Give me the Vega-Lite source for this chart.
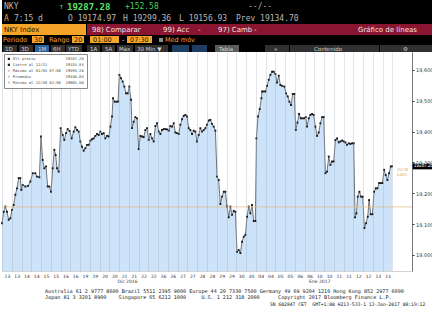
{
  "$schema": "https://vega.github.io/schema/vega-lite/v6.json",
  "background": "white",
  "padding": 0,
  "spacing": 0,
  "config": {"view": {"stroke": null}},
  "resolve": {"scale": {"color": "independent", "fill": "independent"}, "legend": {"color": "independent", "fill": "independent"}},
  "title": {
    "text": "SN 602847 CET\u00a0\u00a0GMT+1:00 H213-533-1 13-Jan-2017 08:19:12",
    "orient": "bottom",
    "anchor": "start",
    "frame": "group",
    "font": "DejaVu Sans Mono",
    "fontSize": 4.7,
    "fontWeight": "normal",
    "color": "#222222",
    "baseline": "top",
    "offset": 2,
    "dx": 268
  },
  "datasets": {
    "nky": [
      {"t":0,"v":19103},{"t":0.171,"v":19140},{"t":0.342,"v":19157},{"t":0.512,"v":19140},{"t":0.683,"v":19114},{"t":0.854,"v":19119},{"t":1.025,"v":19146},{"t":1.195,"v":19162},{"t":1.366,"v":19195},{"t":1.537,"v":19216},{"t":1.708,"v":19249},{"t":1.878,"v":19249},{"t":1.981,"v":19211},{"t":2.117,"v":19227},{"t":2.391,"v":19222},{"t":2.664,"v":19224},{"t":2.903,"v":19238},{"t":3.142,"v":19265},{"t":3.415,"v":19265},{"t":3.586,"v":19254},{"t":3.825,"v":19252},{"t":3.996,"v":19384},{"t":4.167,"v":19308},{"t":4.337,"v":19281},{"t":4.508,"v":19287},{"t":4.679,"v":19222},{"t":4.85,"v":19222},{"t":5.02,"v":19205},{"t":5.191,"v":19281},{"t":5.362,"v":19341},{"t":5.499,"v":19324},{"t":5.635,"v":19281},{"t":5.806,"v":19270},{"t":6.011,"v":19411},{"t":6.216,"v":19389},{"t":6.387,"v":19373},{"t":6.557,"v":19395},{"t":6.728,"v":19408},{"t":6.933,"v":19402},{"t":7.138,"v":19378},{"t":7.343,"v":19400},{"t":7.514,"v":19414},{"t":7.684,"v":19405},{"t":7.855,"v":19400},{"t":8.026,"v":19368},{"t":8.197,"v":19351},{"t":8.367,"v":19338},{"t":8.538,"v":19346},{"t":8.709,"v":19357},{"t":8.88,"v":19357},{"t":9.051,"v":19371},{"t":9.221,"v":19375},{"t":9.392,"v":19378},{"t":9.563,"v":19386},{"t":9.734,"v":19392},{"t":9.904,"v":19389},{"t":10.075,"v":19400},{"t":10.246,"v":19392},{"t":10.417,"v":19395},{"t":10.587,"v":19378},{"t":10.758,"v":19386},{"t":10.929,"v":19384},{"t":11.1,"v":19416},{"t":11.27,"v":19449},{"t":11.373,"v":19508},{"t":11.544,"v":19497},{"t":11.714,"v":19497},{"t":11.885,"v":19497},{"t":12.022,"v":19584},{"t":12.193,"v":19573},{"t":12.363,"v":19562},{"t":12.534,"v":19546},{"t":12.705,"v":19524},{"t":12.876,"v":19524},{"t":13.046,"v":19546},{"t":13.217,"v":19503},
      {"t":13.32,"v":19411},{"t":13.49,"v":19432},{"t":13.661,"v":19447},{"t":13.832,"v":19443},{"t":14.003,"v":19343},{"t":14.173,"v":19386},{"t":14.344,"v":19384},{"t":14.515,"v":19382},{"t":14.686,"v":19405},{"t":14.857,"v":19411},{"t":15.027,"v":19373},{"t":15.198,"v":19392},{"t":15.369,"v":19378},{"t":15.54,"v":19368},{"t":15.71,"v":19418},{"t":15.881,"v":19427},{"t":16.052,"v":19400},{"t":16.223,"v":19392},{"t":16.393,"v":19405},{"t":16.564,"v":19408},{"t":16.735,"v":19408},{"t":16.906,"v":19407},{"t":17.077,"v":19403},{"t":17.247,"v":19418},{"t":17.418,"v":19416},{"t":17.589,"v":19427},{"t":17.76,"v":19397},{"t":17.93,"v":19395},{"t":18.101,"v":19392},{"t":18.272,"v":19422},{"t":18.443,"v":19440},{"t":18.613,"v":19451},{"t":18.784,"v":19454},{"t":18.955,"v":19449},{"t":19.126,"v":19411},{"t":19.296,"v":19405},{"t":19.467,"v":19392},{"t":19.638,"v":19403},{"t":19.809,"v":19400},{"t":19.98,"v":19368},{"t":20.15,"v":19389},{"t":20.321,"v":19411},{"t":20.492,"v":19400},{"t":20.663,"v":19405},{"t":20.833,"v":19411},{"t":21.004,"v":19422},{"t":21.175,"v":19436},{"t":21.346,"v":19438},{"t":21.516,"v":19425},{"t":21.687,"v":19416},{"t":21.858,"v":19403},{"t":22.029,"v":19254},{"t":22.2,"v":19243},{"t":22.37,"v":19165},{"t":22.541,"v":19189},{"t":22.712,"v":19205},{"t":22.883,"v":19205},{"t":23.053,"v":19157},{"t":23.224,"v":19122},{"t":23.395,"v":19157},{"t":23.566,"v":19130},{"t":23.736,"v":19143},{"t":23.907,"v":19140},{"t":24.078,"v":19010},{"t":24.249,"v":19016},{"t":24.419,"v":19006},{"t":24.59,"v":19043},{"t":24.761,"v":19059},{"t":24.932,"v":19065},{"t":25.102,"v":19124},{"t":25.273,"v":19157},{"t":25.444,"v":19135},{"t":25.615,"v":19162},{"t":25.785,"v":19110},{"t":25.956,"v":19110},{"t":26.059,"v":19378},{"t":26.229,"v":19449},{"t":26.4,"v":19473},{"t":26.571,"v":19508},
      {"t":26.639,"v":19530},{"t":26.81,"v":19530},{"t":26.981,"v":19530},{"t":27.152,"v":19548},{"t":27.322,"v":19568},{"t":27.493,"v":19584},{"t":27.664,"v":19594},{"t":27.835,"v":19594},{"t":28.005,"v":19587},{"t":28.176,"v":19559},{"t":28.347,"v":19581},{"t":28.518,"v":19551},{"t":28.689,"v":19548},{"t":28.928,"v":19546},{"t":29.098,"v":19524},{"t":29.269,"v":19514},{"t":29.44,"v":19497},{"t":29.611,"v":19486},{"t":29.781,"v":19522},{"t":29.952,"v":19522},{"t":30.089,"v":19405},{"t":30.26,"v":19429},{"t":30.43,"v":19457},{"t":30.601,"v":19443},{"t":30.772,"v":19443},{"t":30.943,"v":19443},{"t":31.113,"v":19447},{"t":31.25,"v":19416},{"t":31.421,"v":19443},{"t":31.592,"v":19454},{"t":31.762,"v":19457},{"t":31.933,"v":19454},{"t":32.104,"v":19416},{"t":32.275,"v":19386},{"t":32.445,"v":19397},{"t":32.616,"v":19427},{"t":32.787,"v":19447},{"t":32.958,"v":19447},{"t":33.128,"v":19265},{"t":33.299,"v":19270},{"t":33.47,"v":19319},{"t":33.641,"v":19292},{"t":33.811,"v":19303},{"t":33.982,"v":19303},{"t":34.153,"v":19373},{"t":34.324,"v":19378},{"t":34.495,"v":19365},{"t":34.665,"v":19368},{"t":34.836,"v":19371},{"t":35.007,"v":19368},{"t":35.178,"v":19365},{"t":35.348,"v":19357},{"t":35.519,"v":19362},{"t":35.69,"v":19360},{"t":35.861,"v":19362},{"t":36.031,"v":19362},{"t":36.168,"v":19122},{"t":36.305,"v":19135},{"t":36.441,"v":19189},{"t":36.612,"v":19205},{"t":36.783,"v":19189},{"t":36.953,"v":19189},{"t":37.124,"v":19087},{"t":37.295,"v":19103},{"t":37.466,"v":19124},{"t":37.602,"v":19178},{"t":37.773,"v":19132},{"t":37.944,"v":19132},{"t":38.115,"v":19205},{"t":38.285,"v":19216},{"t":38.456,"v":19216},{"t":38.627,"v":19233},{"t":38.798,"v":19233},{"t":38.968,"v":19233},{"t":39.139,"v":19276},{"t":39.31,"v":19259},{"t":39.481,"v":19243},{"t":39.651,"v":19265},{"t":39.822,"v":19287},{"t":39.959,"v":19287.28}
    ],
    "stats": [
      {"stat": "Ult precio", "value": 19287.28},
      {"stat": "Cierre al 12/12", "value": 19155.83},
      {"stat": "Máximo al 01/04 07:00", "value": 19594.26},
      {"stat": "Promedio", "value": 19346.03},
      {"stat": "Mínimo al 12/30 02:00", "value": 19005.86}
    ],
    "hbars": [
      {"x0":0,"x1":84,"y0":24,"y1":35,"k":"orange"},
      {"x0":85,"x1":432,"y0":24,"y1":35,"k":"red"},
      {"x0":30,"x1":42,"y0":36,"y1":43,"k":"box"},
      {"x0":70,"x1":82,"y0":36,"y1":43,"k":"box"},
      {"x0":88,"x1":117,"y0":36,"y1":43,"k":"box"},
      {"x0":125,"x1":150,"y0":36,"y1":43,"k":"box"},
      {"x0":157,"x1":161,"y0":38,"y1":42,"k":"check"},
      {"x0":1,"x1":15,"y0":45,"y1":52,"k":"btn"},
      {"x0":17,"x1":31,"y0":45,"y1":52,"k":"btn"},
      {"x0":33,"x1":47,"y0":45,"y1":52,"k":"blue"},
      {"x0":49,"x1":63,"y0":45,"y1":52,"k":"btn"},
      {"x0":64,"x1":80,"y0":45,"y1":52,"k":"btn"},
      {"x0":85,"x1":98,"y0":45,"y1":52,"k":"btn"},
      {"x0":100,"x1":113,"y0":45,"y1":52,"k":"btn"},
      {"x0":115,"x1":131,"y0":45,"y1":52,"k":"btn"},
      {"x0":133,"x1":166,"y0":45,"y1":52,"k":"btn"},
      {"x0":170,"x1":187,"y0":45,"y1":52,"k":"icon"},
      {"x0":190,"x1":205,"y0":45,"y1":52,"k":"icon"},
      {"x0":213,"x1":237,"y0":45,"y1":52,"k":"btnlight"},
      {"x0":263,"x1":287,"y0":45,"y1":52,"k":"btn"},
      {"x0":288,"x1":377,"y0":45,"y1":52,"k":"btn"},
      {"x0":378,"x1":430,"y0":45,"y1":52,"k":"btn"}
    ],
    "htext": [
      {"r":1,"x":2,"y":7,"t":"NKY","k":"gray"},
      {"r":1,"x":57,"y":7,"t":"↑","k":"green"},
      {"r":1,"x":65,"y":7,"t":"19287.28","k":"price"},
      {"r":1,"x":123,"y":7,"t":"+152.58","k":"green"},
      {"r":1,"x":246,"y":7,"t":"--/--","k":"gray"},
      {"r":1,"x":2,"y":19,"t":"A","k":"orange"},
      {"r":1,"x":12,"y":19,"t":"7:15 d","k":"gray"},
      {"r":1,"x":66,"y":19,"t":"O 19174.97","k":"gray"},
      {"r":1,"x":121,"y":19,"t":"H 19299.36","k":"gray"},
      {"r":1,"x":177,"y":19,"t":"L 19156.93","k":"gray"},
      {"r":1,"x":234,"y":19,"t":"Prev 19134.70","k":"gray"},
      {"r":3,"x":2,"y":30,"t":"NKY Index","k":"dark"},
      {"r":3,"x":90,"y":30,"t":"98) Comparar","k":"white"},
      {"r":3,"x":161,"y":30,"t":"99) Acc","k":"white"},
      {"r":3,"x":196,"y":30,"t":"-","k":"white"},
      {"r":3,"x":216,"y":30,"t":"97) Camb","k":"white"},
      {"r":3,"x":252,"y":30,"t":"-","k":"white"},
      {"r":3,"x":356,"y":30,"t":"Gráfico de líneas","k":"white"},
      {"r":4,"x":1,"y":39.5,"t":"Periodo","k":"orange"},
      {"r":4,"x":32,"y":39.5,"t":"30","k":"dark"},
      {"r":4,"x":47,"y":39.5,"t":"Rango","k":"orange"},
      {"r":4,"x":72,"y":39.5,"t":"20","k":"dark"},
      {"r":4,"x":91,"y":39.5,"t":"01:00","k":"dark"},
      {"r":4,"x":120,"y":39.5,"t":"-","k":"white"},
      {"r":4,"x":128,"y":39.5,"t":"07:30","k":"dark"},
      {"r":4,"x":163,"y":39.5,"t":"Med móv","k":"orange"},
      {"r":5,"x":3,"y":48.5,"t":"1D","k":"btn"},
      {"r":5,"x":19,"y":48.5,"t":"3D","k":"btn"},
      {"r":5,"x":36,"y":48.5,"t":"1M","k":"btn"},
      {"r":5,"x":51,"y":48.5,"t":"6H","k":"btn"},
      {"r":5,"x":66,"y":48.5,"t":"YTD","k":"btn"},
      {"r":5,"x":88,"y":48.5,"t":"1A","k":"btn"},
      {"r":5,"x":103,"y":48.5,"t":"5A","k":"btn"},
      {"r":5,"x":117,"y":48.5,"t":"Máx","k":"btn"},
      {"r":5,"x":135,"y":48.5,"t":"30 Min ▼","k":"btn"},
      {"r":5,"x":217,"y":48.5,"t":"Tabla","k":"btn"},
      {"r":5,"x":272,"y":48.5,"t":"«","k":"btn"},
      {"r":5,"x":312,"y":48.5,"t":"Contenido","k":"btn"},
      {"r":5,"x":401,"y":48.5,"t":"⚙","k":"btn"}
    ]
  },
  "vconcat": [
    {
      "width": 432,
      "height": 52,
      "view": {"fill": "black", "stroke": null},
      "layer": [
        {
          "data": {"name": "hbars"},
          "mark": {"type": "rect"},
          "encoding": {
            "x": {"field": "x0", "type": "quantitative", "scale": {"domain": [0, 432], "nice": false, "zero": false}, "axis": null},
            "x2": {"field": "x1"},
            "y": {"field": "y0", "type": "quantitative", "scale": {"domain": [0, 52], "nice": false, "zero": false, "reverse": true}, "axis": null},
            "y2": {"field": "y1"},
            "fill": {"field": "k", "type": "nominal", "legend": null,
              "scale": {"domain": ["orange","red","box","check","btn","blue","icon","btnlight"],
                        "range": ["#f4a428","#8a1530","#f5a52a","#8c8c8c","#303030","#2862a0","#1d3d63","#5c5c5c"]}}
          }
        },
        {
          "data": {"name": "htext"},
          "transform": [{"filter": "datum.r == 1 && datum.k != 'price'"}],
          "mark": {"type": "text", "align": "left", "baseline": "middle", "font": "DejaVu Sans Mono", "fontSize": 8},
          "encoding": {
            "x": {"field": "x", "type": "quantitative"},
            "y": {"field": "y", "type": "quantitative"},
            "text": {"field": "t"},
            "color": {"field": "k", "type": "nominal", "legend": null,
              "scale": {"domain": ["gray","green","price","orange","dark","white","btn"],
                        "range": ["#b8b8b8","#46d35b","#5ae46b","#f0a232","#2a1500","#f2e4e4","#d4d4d4"]}}
          }
        },
        {
          "data": {"name": "htext"},
          "transform": [{"filter": "datum.k == 'price'"}],
          "mark": {"type": "text", "align": "left", "baseline": "middle", "font": "DejaVu Sans Mono", "fontSize": 9, "fontWeight": "bold"},
          "encoding": {
            "x": {"field": "x", "type": "quantitative"},
            "y": {"field": "y", "type": "quantitative"},
            "text": {"field": "t"},
            "color": {"field": "k", "type": "nominal", "legend": null}
          }
        },
        {
          "data": {"name": "htext"},
          "transform": [{"filter": "datum.r == 3"}],
          "mark": {"type": "text", "align": "left", "baseline": "middle", "font": "DejaVu Sans", "fontSize": 7},
          "encoding": {
            "x": {"field": "x", "type": "quantitative"},
            "y": {"field": "y", "type": "quantitative"},
            "text": {"field": "t"},
            "color": {"field": "k", "type": "nominal", "legend": null}
          }
        },
        {
          "data": {"name": "htext"},
          "transform": [{"filter": "datum.r == 4"}],
          "mark": {"type": "text", "align": "left", "baseline": "middle", "font": "DejaVu Sans", "fontSize": 6.5},
          "encoding": {
            "x": {"field": "x", "type": "quantitative"},
            "y": {"field": "y", "type": "quantitative"},
            "text": {"field": "t"},
            "color": {"field": "k", "type": "nominal", "legend": null}
          }
        },
        {
          "data": {"name": "htext"},
          "transform": [{"filter": "datum.r == 5"}],
          "mark": {"type": "text", "align": "left", "baseline": "middle", "font": "DejaVu Sans", "fontSize": 5.5},
          "encoding": {
            "x": {"field": "x", "type": "quantitative"},
            "y": {"field": "y", "type": "quantitative"},
            "text": {"field": "t"},
            "color": {"field": "k", "type": "nominal", "legend": null}
          }
        }
      ]
    },
    {
      "width": 410,
      "height": 219,
      "view": {"fill": "white", "stroke": null},
      "title": {
        "text": [
          "Australia 61 2 9777 8600 Brazil 5511 2395 9000 Europe 44 20 7330 7500 Germany 49 69 9204 1210 Hong Kong 852 2977 6000",
          "Japan 81 3 3201 8900\u00a0\u00a0\u00a0\u00a0Singapore 65 6212 1000\u00a0\u00a0\u00a0\u00a0\u00a0U.S. 1 212 318 2000\u00a0\u00a0\u00a0\u00a0\u00a0\u00a0Copyright 2017 Bloomberg Finance L.P."
        ],
        "orient": "bottom",
        "anchor": "start",
        "frame": "group",
        "font": "DejaVu Sans Mono",
        "fontSize": 5.1,
        "fontWeight": "normal",
        "color": "#222222",
        "lineHeight": 6.7,
        "baseline": "top",
        "offset": 6,
        "dx": 43
      },
      "resolve": {"axis": {"x": "independent", "y": "independent"}},
      "layer": [
        {
          "data": {"name": "nky"},
          "mark": {"type": "area", "color": "#cde3f9", "opacity": 1, "clip": true},
          "encoding": {
            "x": {"field": "t", "type": "quantitative",
              "scale": {"domain": [0, 42], "nice": false, "zero": false},
              "axis": {"values": [0,1,2,3,4,5,6,7,8,9,10,11,12,13,14,15,16,17,18,19,20,21,22,23,24,25,26,27,28,29,30,31,32,33,34,35,36,37,38,39,40],
                "labelExpr": "datum.value < 40 ? ['13','13','14','14','15','15','16','16','19','19','20','20','21','21','22','22','26','26','27','27','28','28','29','29','30','30','04','04','05','05','06','06','10','10','11','11','12','12','13','13'][datum.value] : ''",
                "labelOffset": 4.88, "labelFlush": false, "labelOverlap": false,
                "grid": true, "gridColor": "#8d9cab", "gridOpacity": 0.45, "gridWidth": 0.6,
                "ticks": false, "domain": true, "domainColor": "#b5b5b5", "domainWidth": 0.6,
                "labelFont": "DejaVu Sans", "labelFontSize": 4.5, "labelColor": "#333333", "labelPadding": 2.5,
                "title": null, "zindex": 1}},
            "y": {"field": "v", "type": "quantitative",
              "scale": {"domain": [18948, 19658], "zero": false, "nice": false},
              "axis": {"orient": "right", "values": [19000,19100,19200,19300,19400,19500,19600],
                "grid": false, "tickSize": 2, "tickColor": "#333333", "domainColor": "#555555", "domainWidth": 0.8,
                "labelFont": "DejaVu Sans", "labelFontSize": 5, "labelColor": "#333333", "labelPadding": 1.5, "title": null}}
          }
        },
        {
          "data": {"name": "nky"},
          "mark": {"type": "line", "color": "#3b3f45", "strokeWidth": 0.7},
          "encoding": {
            "x": {"field": "t", "type": "quantitative",
              "axis": {"orient": "bottom", "values": [12.8, 32.5],
                "labelExpr": "datum.value < 20 ? 'Dic 2016' : 'Ene 2017'",
                "grid": false, "ticks": false, "domain": false, "offset": 7, "labelPadding": 0,
                "labelFlush": false, "labelFont": "DejaVu Sans", "labelFontSize": 4.5, "labelColor": "#333333", "title": null}},
            "y": {"field": "v", "type": "quantitative", "axis": null}
          }
        },
        {
          "data": {"name": "nky"},
          "mark": {"type": "point", "shape": "square", "filled": true, "size": 3.5, "color": "#1a1a1a", "opacity": 1},
          "encoding": {
            "x": {"field": "t", "type": "quantitative", "axis": null},
            "y": {"field": "v", "type": "quantitative", "axis": null}
          }
        },
        {
          "data": {"name": "stats"},
          "transform": [{"filter": "datum.stat == 'Cierre al 12/12'"}],
          "mark": {"type": "rule", "color": "#e6c28a", "strokeWidth": 0.8},
          "encoding": {
            "y": {"field": "value", "type": "quantitative", "axis": null}
          }
        },
        {
          "data": {"name": "stats"},
          "transform": [{"calculate": "pad(datum.stat, 22, '\u00a0') + pad(format(datum.value, '.2f'), 9, '\u00a0', 'left')", "as": "label"}],
          "mark": {"type": "square", "size": 0, "opacity": 1},
          "encoding": {
            "color": {"field": "label", "type": "nominal", "sort": null,
              "scale": {"range": ["#1a1a1a","#1a1a1a","#d0d0d0","#d0d0d0","#d0d0d0"]},
              "legend": {"orient": "top-left", "offset": 2, "title": null, "fillColor": "white", "strokeColor": "#8a8a8a",
                "padding": 3, "symbolType": "square", "symbolSize": 5, "symbolOpacity": 1, "symbolStrokeWidth": 0,
                "labelFont": "DejaVu Sans Mono", "labelFontSize": 3.8, "labelColor": "#444444", "rowPadding": 0.9,
                "labelOffset": 2, "cornerRadius": 0, "zindex": 2}}
          }
        },
        {
          "data": {"name": "stats"},
          "transform": [{"filter": "datum.stat == 'Ult precio'"}],
          "mark": {"type": "point", "shape": "M0.1,-0.5H3.6V0.5H0.1Z", "size": 144, "filled": true, "color": "black", "opacity": 1, "clip": false},
          "encoding": {
            "x": {"value": "width"},
            "y": {"field": "value", "type": "quantitative", "axis": null}
          }
        },
        {
          "data": {"name": "stats"},
          "transform": [{"filter": "datum.stat == 'Ult precio'"}],
          "mark": {"type": "text", "align": "left", "baseline": "middle", "dx": 2, "font": "Liberation Sans", "fontSize": 4.6, "color": "white"},
          "encoding": {
            "x": {"value": "width"},
            "y": {"field": "value", "type": "quantitative", "axis": null},
            "text": {"field": "value", "type": "quantitative", "format": ".2f"}
          }
        },
        {
          "data": {"name": "stats"},
          "transform": [{"filter": "datum.stat == 'Ult precio'"}],
          "mark": {"type": "text", "align": "left", "baseline": "top", "dx": -15, "dy": 2, "font": "Liberation Sans", "fontSize": 3.6, "color": "#e0a247", "text": ["152.58", "0.80%"], "lineHeight": 4.2},
          "encoding": {
            "x": {"value": "width"},
            "y": {"field": "value", "type": "quantitative", "axis": null}
          }
        }
      ]
    }
  ]
}
